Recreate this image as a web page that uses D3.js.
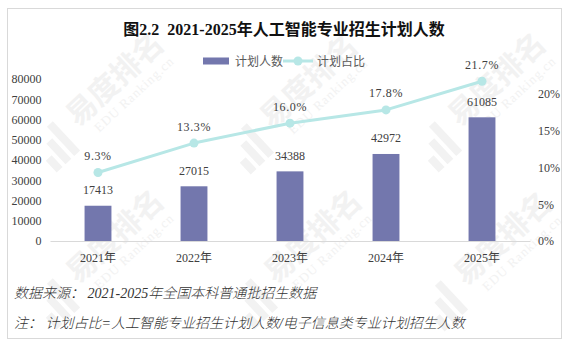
<!DOCTYPE html>
<html>
<head>
<meta charset="utf-8">
<script src="https://cdn.jsdelivr.net/npm/d3@7"></script>
<style>
  html, body { margin: 0; padding: 0; background: #ffffff; }
  svg { display: block; }
  text { white-space: pre; }
</style>
</head>
<body>
<svg id="chart" width="565" height="345"></svg>
<script>
// Categories and series
const years = ["2021年", "2022年", "2023年", "2024年", "2025年"];
const planCounts = [17413, 27015, 34388, 42972, 61085];
const planShare = [0.093, 0.133, 0.160, 0.178, 0.217];
const countTicks = [0, 10000, 20000, 30000, 40000, 50000, 60000, 70000, 80000];
const shareTicks = [0, 0.05, 0.10, 0.15, 0.20];
const seriesNames = ["计划人数", "计划占比"];
const titleText = "图2.2\u00a0\u00a02021-2025年人工智能专业招生计划人数";
const sourceText = "数据来源：\u00a02021-2025年全国本科普通批招生数据";
const noteText = "注：\u00a0计划占比=人工智能专业招生计划人数/电子信息类专业计划招生人数";

const barColor = "#7377ad";
const lineColor = "#b7e7e6";
const labelColor = "#404040";
const cjk = "'Liberation Serif', 'Noto Sans CJK SC', serif";

const svg = d3.select("#chart");

// Faint background watermark tiles
const wm = svg.append("g").attr("pointer-events", "none");
const tiles = [[112, 88], [306, 90], [494, 88], [112, 245], [310, 245], [500, 247]];
tiles.forEach(([cx, cy]) => {
  const g = wm.append("g").attr("transform", `translate(${cx},${cy}) rotate(-43)`);
  g.append("text").attr("x", 8).attr("y", 6)
    .attr("text-anchor", "middle")
    .style("font-family", "'Noto Sans CJK SC', sans-serif")
    .style("font-weight", 700).style("font-size", "30px")
    .attr("fill", "#f2f2f2").text("易度排名");
  g.append("text").attr("x", 12).attr("y", 24)
    .attr("text-anchor", "middle")
    .style("font-family", "'Liberation Serif', serif")
    .style("font-size", "13px").attr("letter-spacing", "1")
    .attr("fill", "#f2f2f2").text("EDU Ranking.cn");
  // logo: three stepped bars
  [[-98, 8, 16], [-86, -4, 28], [-74, -16, 40]].forEach(([lx, ly, lh]) => {
    g.append("rect").attr("x", lx).attr("y", ly).attr("width", 8).attr("height", lh)
      .attr("fill", "#f2f2f2");
  });
});

// Outer frame
svg.append("rect")
  .attr("x", 7.5).attr("y", 8.5).attr("width", 554).attr("height", 330)
  .attr("fill", "none").attr("stroke", "#d9d9d9").attr("stroke-width", 1);

// Title
svg.append("text")
  .attr("x", 284).attr("y", 35)
  .attr("text-anchor", "middle")
  .style("font-family", cjk)
  .style("font-weight", 700).style("font-size", "16px")
  .attr("fill", "#111").text(titleText);

// Scales
const x = d3.scaleBand().domain(years).range([50, 530]);
const y = d3.scaleLinear().domain([0, 80000]).range([241, 79]);
const y2 = d3.scaleLinear().domain([0, 0.22]).range([241, 79]);
const barW = x.bandwidth() * 0.28;

// Left axis
const axL = svg.append("g").attr("transform", "translate(50,0)")
  .call(d3.axisLeft(y).tickValues(countTicks).tickSize(0).tickPadding(8.5).tickFormat(d3.format("d")));
axL.select(".domain").remove();
axL.selectAll("text").style("font-family", cjk).style("font-size", "12px").attr("fill", labelColor);

// Right axis
const axR = svg.append("g").attr("transform", "translate(530,0)")
  .call(d3.axisRight(y2).tickValues(shareTicks).tickSize(0).tickPadding(8).tickFormat(d3.format(".0%")));
axR.select(".domain").remove();
axR.selectAll("text").style("font-family", cjk).style("font-size", "12px").attr("fill", labelColor);

// Bottom axis
const axB = svg.append("g").attr("transform", "translate(0,241)")
  .call(d3.axisBottom(x).tickSize(0).tickPadding(12));
axB.select(".domain").attr("stroke", "#d9d9d9").attr("stroke-width", 1);
axB.selectAll("text").style("font-family", cjk).style("font-size", "12px").attr("fill", labelColor);

// Bars
svg.append("g").selectAll("rect").data(planCounts).join("rect")
  .attr("x", (d, i) => x(years[i]) + x.bandwidth() / 2 - barW / 2)
  .attr("y", d => y(d))
  .attr("width", barW)
  .attr("height", d => y(0) - y(d))
  .attr("fill", barColor);

// Bar value labels
svg.append("g").selectAll("text").data(planCounts).join("text")
  .attr("x", (d, i) => x(years[i]) + x.bandwidth() / 2)
  .attr("y", d => y(d) - 11.5)
  .attr("text-anchor", "middle")
  .style("font-family", cjk).style("font-size", "12px")
  .attr("fill", labelColor)
  .text(d => d);

// Share line
const line = d3.line()
  .x((d, i) => x(years[i]) + x.bandwidth() / 2)
  .y(d => y2(d));
svg.append("path").datum(planShare)
  .attr("d", line).attr("fill", "none")
  .attr("stroke", lineColor).attr("stroke-width", 3)
  .attr("stroke-linejoin", "round");
svg.append("g").selectAll("circle").data(planShare).join("circle")
  .attr("cx", (d, i) => x(years[i]) + x.bandwidth() / 2)
  .attr("cy", d => y2(d))
  .attr("r", 4.5)
  .attr("fill", lineColor);

// Share labels
svg.append("g").selectAll("text").data(planShare).join("text")
  .attr("x", (d, i) => x(years[i]) + x.bandwidth() / 2)
  .attr("y", d => y2(d) - 12.5)
  .attr("text-anchor", "middle")
  .attr("letter-spacing", "0.6")
  .style("font-family", cjk).style("font-size", "12px")
  .attr("fill", labelColor)
  .text(d => d3.format(".1%")(d));

// Legend
const lg = svg.append("g");
lg.append("rect").attr("x", 203).attr("y", 57.5).attr("width", 26).attr("height", 7).attr("fill", barColor);
lg.append("text").attr("x", 235).attr("y", 65.5)
  .style("font-family", cjk).style("font-size", "12px").attr("fill", "#595959").text(seriesNames[0]);
lg.append("line").attr("x1", 283).attr("x2", 313).attr("y1", 61).attr("y2", 61)
  .attr("stroke", lineColor).attr("stroke-width", 3);
lg.append("circle").attr("cx", 298).attr("cy", 61).attr("r", 4.5).attr("fill", lineColor);
lg.append("text").attr("x", 317).attr("y", 65.5)
  .style("font-family", cjk).style("font-size", "12px").attr("fill", "#595959").text(seriesNames[1]);

// Footnotes
svg.append("text").attr("x", 14).attr("y", 297.5)
  .style("font-family", cjk).style("font-style", "italic").style("font-size", "14px")
  .style("font-weight", 300)
  .attr("fill", "#333333").text(sourceText);
svg.append("text").attr("x", 14).attr("y", 327.5)
  .style("font-family", cjk).style("font-style", "italic").style("font-size", "14px")
  .style("font-weight", 300)
  .attr("fill", "#333333").text(noteText);
</script>
</body>
</html>
